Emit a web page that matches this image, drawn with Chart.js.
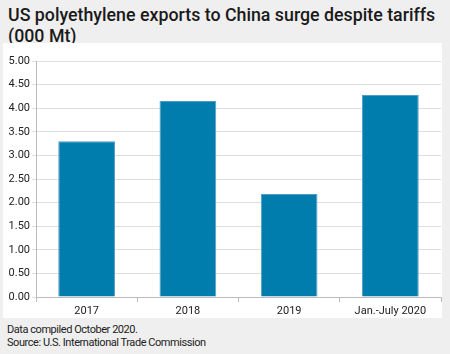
<!DOCTYPE html>
<html><head><meta charset="utf-8">
<script src="https://cdn.jsdelivr.net/npm/chart.js@4"></script>
<style>
body{margin:0;background:#efefef;width:450px;height:354px;overflow:hidden;font-family:Roboto,"Liberation Sans",sans-serif;}
#title{position:absolute;left:8px;top:4px;font-size:17.8px;line-height:21px;color:#1a1a1a;font-weight:500;}
#panel{position:absolute;left:3px;top:43px;width:439px;height:275px;background:#fff;}
#foot{position:absolute;left:7px;top:323px;font-size:11px;line-height:13px;color:#222;letter-spacing:-0.45px;}
</style></head><body>
<div id="title">US polyethylene exports to China surge despite tariffs<br>(000 Mt)</div>
<div id="panel"><canvas id="c" width="439" height="275"></canvas></div>
<div id="foot">Data compiled October 2020.<br>Source: U.S. International Trade Commission</div>
<script>
const categories = ["2017", "2018", "2019", "Jan.-July 2020"];
const exportsValues = [3.30, 4.15, 2.18, 4.28];
const yTicks = [0, 0.5, 1, 1.5, 2, 2.5, 3, 3.5, 4, 4.5, 5];

new Chart(document.getElementById('c'), {
  type: 'bar',
  data: { labels: categories, datasets: [{ data: exportsValues, backgroundColor: '#007cad', borderColor: '#4f9cc4', borderWidth: 1, barPercentage: 0.56, categoryPercentage: 1 }] },
  options: {
    responsive: false, animation: false,
    layout: { padding: { top: 18, right: 1, left: 0, bottom: 0 } },
    plugins: { legend: { display: false }, tooltip: { enabled: false } },
    scales: {
      x: {
        grid: { drawOnChartArea: false, drawTicks: true, tickLength: 5, color: '#bbb', offset: true },
        border: { color: '#bbb' },
        ticks: { color: '#222', font: { size: 11, family: 'Roboto' }, padding: 3 },
        afterFit: s => { s.height = 21; }
      },
      y: {
        min: 0, max: 5,
        afterBuildTicks: s => { s.ticks = yTicks.map(v => ({ value: v })); },
        grid: { color: '#dedede', tickLength: 4, drawTicks: true },
        border: { color: '#bbb' },
        ticks: { color: '#222', font: { size: 11, family: 'Roboto' }, padding: 2, callback: v => Number(v).toFixed(2) },
        afterFit: s => { s.width = 33; }
      }
    }
  }
});
</script></body></html>
